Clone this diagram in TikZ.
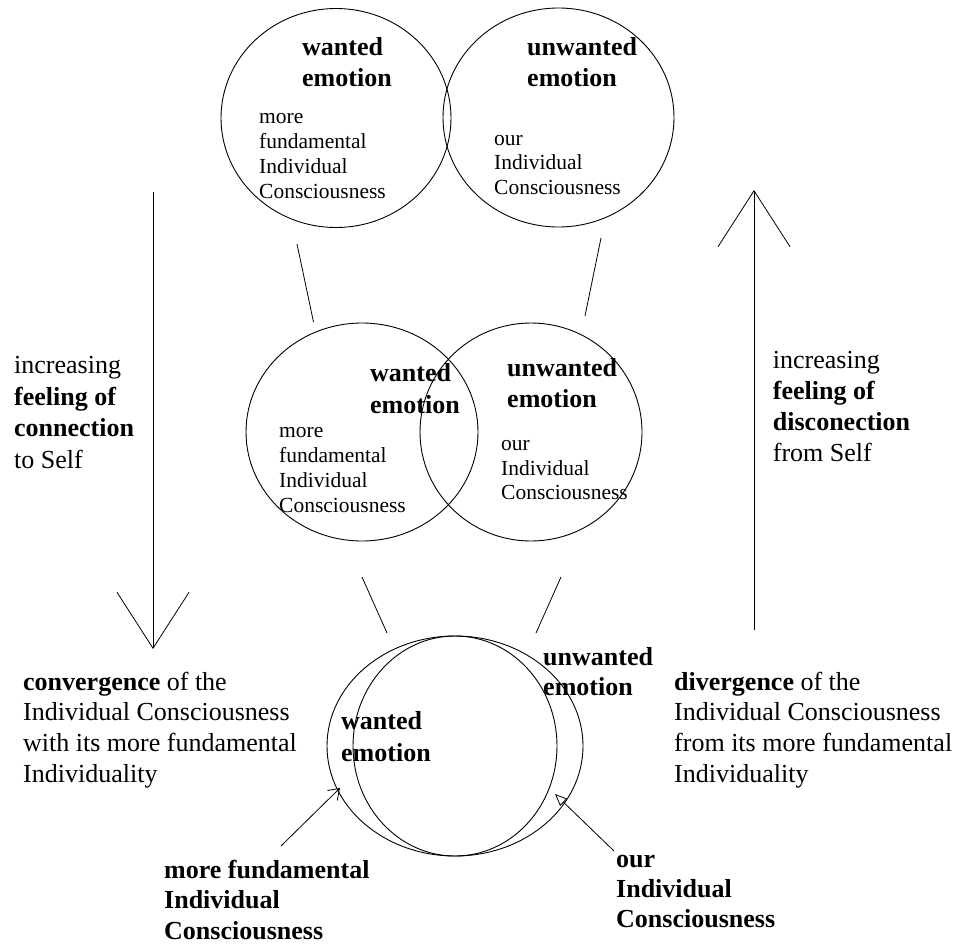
\documentclass[tikz,border=0pt]{standalone}
\usepackage{fontspec}
\setmainfont{Liberation Serif}
\usetikzlibrary{shapes.geometric,arrows.meta}
\newcommand\mlines[1]{\vtop{\halign{##\hfil\cr#1\crcr}}}
\begin{document}
\begin{tikzpicture}[x=1pt,y=-1pt,
  circ/.style={draw,ellipse,inner sep=0pt,line width=0.9pt},
  big/.style={font=\fontsize{26}{31.5}\selectfont,anchor=base west,inner sep=0pt},
  bigb/.style={font=\bfseries\fontsize{26}{31.5}\selectfont,anchor=base west,inner sep=0pt},
  small/.style={font=\fontsize{21.5}{25.2}\selectfont,anchor=base west,inner sep=0pt},
  conn/.style={line width=0.8pt},
  bigarrow/.style={line width=0.8pt,-{Straight Barb[length=56pt,width=72pt,line width=0.8pt]}},
  smallarrow/.style={line width=0.8pt,-{Straight Barb[length=10pt,width=14pt,line width=0.8pt]}},
  triarrow/.style={line width=0.8pt,-{Triangle[open,length=12pt,width=10pt,line width=0.8pt]}}]
\useasboundingbox (0,0) rectangle (955,945);
% top pair
\node[circ,minimum width=230pt,minimum height=219pt] (TL) at (336,118) {};
\node[circ,minimum width=231pt,minimum height=219pt] (TR) at (558.5,117.5) {};
\node[bigb,font=\bfseries\fontsize{26}{31.7}\selectfont] (TLh) at (302,55) {\mlines{wanted\cr emotion}};
\node[small] (TLt) at (259,123.3) {\mlines{more\cr fundamental\cr Individual\cr Consciousness}};
\node[bigb,font=\bfseries\fontsize{26}{31.7}\selectfont] (TRh) at (527,55) {\mlines{unwanted\cr emotion}};
\node[small,font=\fontsize{21.5}{24.6}\selectfont] (TRt) at (494,145) {\mlines{our\cr Individual\cr Consciousness}};
% middle pair
\node[circ,minimum width=232pt,minimum height=218pt] (ML) at (362,432) {};
\node[circ,minimum width=222pt,minimum height=218pt] (MR) at (531,432) {};
\node[bigb,font=\bfseries\fontsize{26}{31.6}\selectfont] (MLh) at (370,381.7) {\mlines{wanted\cr emotion}};
\node[small] (MLt) at (279,437.3) {\mlines{more\cr fundamental\cr Individual\cr Consciousness}};
\node[bigb,font=\bfseries\fontsize{26}{30.6}\selectfont] (MRh) at (507,376.7) {\mlines{unwanted\cr emotion}};
\node[small,font=\fontsize{21.5}{24.6}\selectfont] (MRt) at (501,450.7) {\mlines{our\cr Individual\cr Consciousness}};
% bottom pair
\node[circ,minimum width=256pt,minimum height=220pt] (BO) at (455,746) {};
\node[circ,minimum width=204pt,minimum height=220pt] (BI) at (455,746) {};
\node[bigb,font=\bfseries\fontsize{26}{30}\selectfont] (BOh) at (543,665) {\mlines{unwanted\cr emotion}};
\node[bigb,font=\bfseries\fontsize{26}{31.7}\selectfont] (BIh) at (341,729.3) {\mlines{wanted\cr emotion}};
% bottom labels
\node[bigb,font=\bfseries\fontsize{26}{30.6}\selectfont] (lblL) at (164,878) {\mlines{more fundamental\cr Individual\cr Consciousness}};
\node[bigb,font=\bfseries\fontsize{26}{30}\selectfont] (lblR) at (616,867.3) {\mlines{our\cr Individual\cr Consciousness}};
% side texts
\node[big,font=\fontsize{26}{31.7}\selectfont] (sideL) at (14,373.3) {\mlines{increasing\cr \bfseries feeling of\cr \bfseries connection\cr to Self}};
\node[big,font=\fontsize{26}{31.1}\selectfont] (sideR) at (772.7,368.3) {\mlines{increasing\cr \bfseries feeling of\cr \bfseries disconection\cr from Self}};
\node[big,font=\fontsize{26}{30.9}\selectfont] (convT) at (23,690) {\mlines{\textbf{convergence} of the\cr Individual Consciousness\cr with its more fundamental\cr Individuality}};
\node[big,font=\fontsize{26}{30.9}\selectfont] (divT) at (674,690) {\mlines{\textbf{divergence} of the\cr Individual Consciousness\cr from its more fundamental\cr Individuality}};
% connector coordinates
\coordinate (c1a) at (297,244);
\coordinate (c1b) at (313.5,322);
\coordinate (c2a) at (601,238);
\coordinate (c2b) at (585,316);
\coordinate (c3a) at (362,577);
\coordinate (c3b) at (387,633);
\coordinate (c4a) at (561,577);
\coordinate (c4b) at (536,633);
\coordinate (aLs) at (153,192);
\coordinate (aLe) at (153,649);
\coordinate (aRs) at (754,630);
\coordinate (aRe) at (754,190);
\coordinate (pLs) at (281,846);
\coordinate (pLe) at (340,788);
\coordinate (pRs) at (614,851);
\coordinate (pRe) at (555,794);
\draw[conn] (c1a) -- (c1b);
\draw[conn] (c2a) -- (c2b);
\draw[conn] (c3a) -- (c3b);
\draw[conn] (c4a) -- (c4b);
\draw[bigarrow] (aLs) -- (aLe);
\draw[bigarrow] (aRs) -- (aRe);
\draw[smallarrow] (pLs) -- (pLe);
\draw[triarrow] (pRs) -- (pRe);
\end{tikzpicture}
\end{document}
